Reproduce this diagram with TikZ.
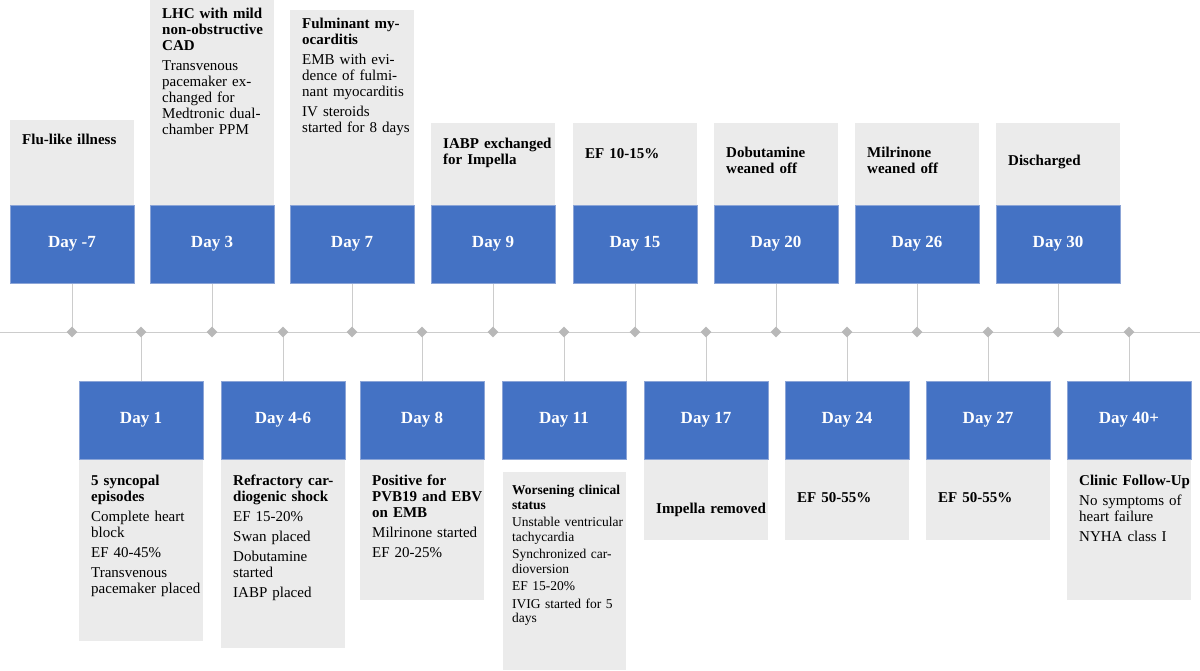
\documentclass[tikz,border=0pt]{standalone}
\usepackage{fontspec}
\usetikzlibrary{shapes.geometric}
\setmainfont{Liberation Serif}
\begin{document}
\begin{tikzpicture}[x=1pt,y=-1pt,
  bbox/.style={fill={rgb,255:red,68;green,114;blue,196},draw={rgb,255:red,140;green,165;blue,215},line width=1pt,minimum width=124pt,minimum height=78pt,text=white,font=\fontsize{17}{18}\selectfont\bfseries,inner sep=0},
  txt/.style={anchor=north west,inner sep=0,text width=112pt,align=left,font=\fontsize{15}{16}\selectfont},
  stxt/.style={txt,font=\fontsize{13.5}{14.5}\selectfont},
  conn/.style={draw=black!20,line width=1pt},
  dia/.style={fill=black!28,draw=none,diamond,minimum size=11pt,inner sep=0,shape aspect=1}]
\useasboundingbox (0,0) rectangle (1200,670);
\draw[conn] (0,332) -- (1200,332);
\foreach \cx/\gt/\tt/\tx [count=\i] in {
 72/120/134/{\textbf{Flu-like illness}},
 212/0/8/{\textbf{LHC with mild non-obstructive CAD}\\[4pt] Transvenous pacemaker exchanged for Medtronic dual-chamber PPM},
 352/10/18/{\textbf{Fulminant myocarditis}\\[4pt] EMB with evidence of fulminant myocarditis\\[4pt] IV steroids started for 8 days},
 493/123/138/{\textbf{IABP exchanged for Impella}},
 635/123/148/{\textbf{EF 10-15\%}},
 776/123/147/{\textbf{Dobutamine weaned off}},
 917/123/147/{\textbf{Milrinone weaned off}},
 1058/123/155/{\textbf{Discharged}}}{
  \fill[black!8] (\cx-62,\gt) rectangle (\cx+62,205);
  \node[txt] (t\i) at (\cx-50,\tt) {\tx};
  \node[bbox] (b\i) at (\cx,244) {};
  \coordinate (d\i) at (\cx,332);
  \draw[conn] (b\i.south) -- (d\i);
}
\node[bbox] at (b1) {Day -7};
\node[bbox] at (b2) {Day 3};
\node[bbox] at (b3) {Day 7};
\node[bbox] at (b4) {Day 9};
\node[bbox] at (b5) {Day 15};
\node[bbox] at (b6) {Day 20};
\node[bbox] at (b7) {Day 26};
\node[bbox] at (b8) {Day 30};
\foreach \cx/\gb/\tt/\tx [count=\i] in {
 141/641/475/{\textbf{5 syncopal episodes}\\[4pt] Complete heart block\\[4pt] EF 40-45\%\\[4pt] Transvenous pacemaker placed},
 283/648/475/{\textbf{Refractory cardiogenic shock}\\[4pt] EF 15-20\%\\[4pt] Swan placed\\[4pt] Dobutamine started\\[4pt] IABP placed},
 422/600/475/{\textbf{Positive for PVB19 and EBV on EMB}\\[4pt] Milrinone started\\[4pt] EF 20-25\%},
 706/540/503/{\textbf{Impella removed}},
 847/540/492/{\textbf{EF 50-55\%}},
 988/540/492/{\textbf{EF 50-55\%}},
 1129/600/475/{\textbf{Clinic Follow-Up}\\[4pt] No symptoms of heart failure\\[4pt] NYHA class I}}{
  \fill[black!8] (\cx-62,460) rectangle (\cx+62,\gb);
  \node[txt] (u\i) at (\cx-50,\tt) {\tx};
}
\fill[black!8] (503,472) rectangle (626,670);
\node[stxt] (u11) at (512,485) {\textbf{Worsening clinical status}\\[3pt] Unstable ventricular tachycardia\\[3pt] Synchronized cardioversion\\[3pt] EF 15-20\%\\[3pt] IVIG started for 5 days};
\foreach \cx/\lab [count=\i] in {141/Day 1,283/Day 4-6,422/Day 8,564/Day 11,706/Day 17,847/Day 24,988/Day 27,1129/Day 40+}{
  \node[bbox] (c\i) at (\cx,420) {\lab};
  \coordinate (e\i) at (\cx,332);
  \draw[conn] (e\i) -- (c\i.north);
}
\foreach \i in {1,...,8}{
  \node[dia] at (d\i) {};
  \node[dia] at (e\i) {};
}
\end{tikzpicture}
\end{document}
